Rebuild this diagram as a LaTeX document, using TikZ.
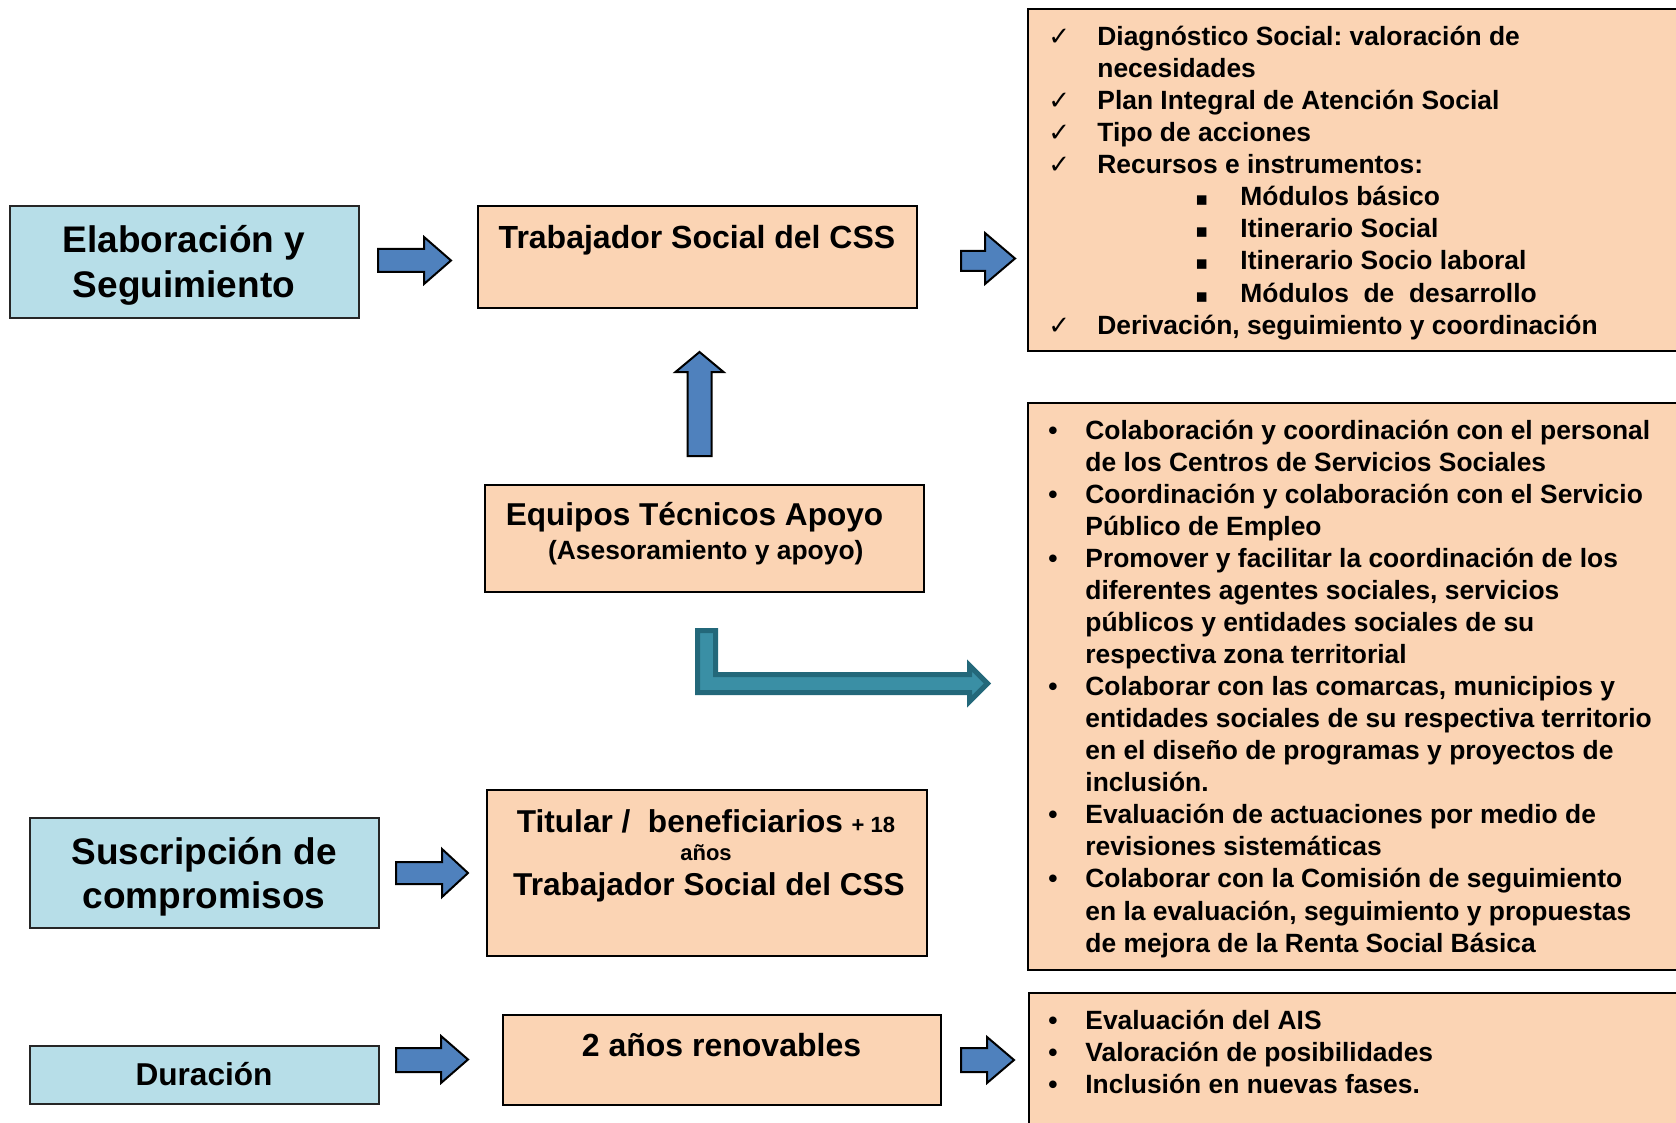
\documentclass[tikz,border=0pt]{standalone}
\usepackage{fontspec}
\setmainfont{Liberation Sans}
\newfontfamily\symfont{DejaVu Sans}
\frenchspacing
\definecolor{boxblue}{HTML}{B7DEE8}
\definecolor{peach}{HTML}{FBD4B4}
\definecolor{arrowblue}{HTML}{4F81BD}
\definecolor{tealfill}{HTML}{3A8FA5}
\definecolor{tealline}{HTML}{23687A}
\newcommand\ctr[2]{\vtop{\baselineskip=#1\relax\halign{\hfil##\hfil\cr#2\crcr}}}
\newcommand\chk{\makebox[23.5pt][l]{\hspace*{-1pt}\symfont\mdseries\fontsize{13}{13}\selectfont ✓}}
\newcommand\sqb{\hspace*{72.5pt}\makebox[22.5pt][l]{\symfont\fontsize{9.5}{9.5}\selectfont ▪}}
\newcommand\bul{\makebox[18.5pt][l]{•}}
\newcommand\ind{\hspace*{18.5pt}}
\newcommand\rarrow[7]{\draw[blockarrow] (#1,#4) -- (#3,#4) -- (#3,#6) -- (#2,{(#6+#7)/2}) -- (#3,#7) -- (#3,#5) -- (#1,#5) -- cycle;}
\begin{document}
\frenchspacing
\begin{tikzpicture}[x=0.5pt,y=-0.5pt,
  bluebox/.style={draw=black!85, line width=1pt, fill=boxblue, inner sep=0pt},
  peachbox/.style={draw=black, line width=1pt, fill=peach, inner sep=0pt},
  txt/.style={inner sep=0pt, font=\bfseries},
  blockarrow/.style={fill=arrowblue, draw=black, line width=1pt, line join=miter}]
\path[use as bounding box] (0,0) rectangle (1676,1123);
\clip (0,0) rectangle (1676,1123);
\fill[white] (0,0) rectangle (1676,1123);

% boxes
\node[bluebox, minimum width=174.75pt, minimum height=56pt] (elab) at (184.25,262) {};
\node[peachbox, minimum width=219.5pt, minimum height=51pt] (trab) at (697.5,257) {};
\node[peachbox, minimum width=331pt, minimum height=170.75pt] (rtop) at (1359,180.25) {};
\node[peachbox, minimum width=219.5pt, minimum height=53.25pt] (equipos) at (704.5,538.25) {};
\node[peachbox, minimum width=331pt, minimum height=283.25pt] (rmid) at (1359,686.25) {};
\node[bluebox, minimum width=174.5pt, minimum height=55pt] (susc) at (204.5,873) {};
\node[peachbox, minimum width=220pt, minimum height=83pt] (titular) at (707,873) {};
\node[bluebox, minimum width=174.25pt, minimum height=29.25pt] (dur) at (204.25,1074.75) {};
\node[peachbox, minimum width=219pt, minimum height=45pt] (anos) at (721.5,1060) {};
\node[peachbox, minimum width=330.5pt, minimum height=73.5pt] (rbot) at (1359.5,1066.5) {};

% texts
\node[txt, anchor=base, font=\bfseries\fontsize{18.5}{18.5}\selectfont] (telab) at (184,252.5)
  {\ctr{22.5pt}{Elaboración y\cr Seguimiento}};
\node[txt, anchor=base, font=\bfseries\fontsize{16}{16}\selectfont] (ttrab) at (697,248.3) {Trabajador Social del CSS};
\node[txt, anchor=base] (tequipos) at (705.8,525)
  {\ctr{17.15pt}{\fontsize{15.8}{15.8}\selectfont Equipos Técnicos Apoyo\hspace*{11.3pt}\cr
   \fontsize{13.2}{13.2}\selectfont (Asesoramiento y apoyo)}};
\node[txt, anchor=base, font=\bfseries\fontsize{18.5}{18.5}\selectfont] (tsusc) at (204,864)
  {\ctr{22pt}{Suscripción de\cr compromisos}};
\node[txt, anchor=base, font=\bfseries\fontsize{15.8}{15.8}\selectfont] (ttit1) at (706,832)
  {Titular /\ \ beneficiarios {\fontsize{11}{11}\selectfont + 18}};
\node[txt, anchor=base, font=\bfseries\fontsize{11}{11}\selectfont] (ttit2) at (706,860) {años};
\node[txt, anchor=base, font=\bfseries\fontsize{15.8}{15.8}\selectfont] (ttit3) at (709,895) {Trabajador Social del CSS};
\node[txt, anchor=base, font=\bfseries\fontsize{15.8}{15.8}\selectfont] (tdur) at (204,1085) {Duración};
\node[txt, anchor=base, font=\bfseries\fontsize{16}{16}\selectfont] (tanos) at (721.5,1056) {2 años renovables};

\node[txt, anchor=base west, font=\bfseries\fontsize{13.2}{13.2}\selectfont] (ltop) at (1050,45.5)
 {\vtop{\baselineskip=16.035pt
  \hbox{\chk Diagnóstico Social: valoración de}
  \hbox{\hspace*{23.5pt}necesidades}
  \hbox{\chk Plan Integral de Atención Social}
  \hbox{\chk Tipo de acciones}
  \hbox{\chk Recursos e instrumentos:}
  \hbox{\sqb Módulos básico}
  \hbox{\sqb Itinerario Social}
  \hbox{\sqb Itinerario Socio laboral}
  \hbox{\sqb Módulos\ \ de\ \ desarrollo}
  \hbox{\chk Derivación, seguimiento y coordinación}}};

\node[txt, anchor=base west, font=\bfseries\fontsize{13.2}{13.2}\selectfont] (lmid) at (1048,439)
 {\vtop{\baselineskip=16.035pt
  \hbox{\bul Colaboración y coordinación con el personal}
  \hbox{\ind de los Centros de Servicios Sociales}
  \hbox{\bul Coordinación y colaboración con el Servicio}
  \hbox{\ind Público de Empleo}
  \hbox{\bul Promover y facilitar la coordinación de los}
  \hbox{\ind diferentes agentes sociales, servicios}
  \hbox{\ind públicos y entidades sociales de su}
  \hbox{\ind respectiva zona territorial}
  \hbox{\bul Colaborar con las comarcas, municipios y}
  \hbox{\ind entidades sociales de su respectiva territorio}
  \hbox{\ind en el diseño de programas y proyectos de}
  \hbox{\ind inclusión.}
  \hbox{\bul Evaluación de actuaciones por medio de}
  \hbox{\ind revisiones sistemáticas}
  \hbox{\bul Colaborar con la Comisión de seguimiento}
  \hbox{\ind en la evaluación, seguimiento y propuestas}
  \hbox{\ind de mejora de la Renta Social Básica}}};

\node[txt, anchor=base west, font=\bfseries\fontsize{13.2}{13.2}\selectfont] (lbot) at (1048,1029)
 {\vtop{\baselineskip=16.035pt
  \hbox{\bul Evaluación del AIS}
  \hbox{\bul Valoración de posibilidades}
  \hbox{\bul Inclusión en nuevas fases.}}};

% block arrows
\rarrow{378}{451}{424}{249}{272}{237}{284}
\rarrow{961}{1015}{985}{251}{271}{233}{284}
\rarrow{396}{468}{442}{862}{884}{849}{897}
\rarrow{396}{468}{441}{1048}{1072}{1036}{1083}
\rarrow{961}{1014}{987}{1048}{1072}{1037}{1083}
\draw[blockarrow] (687.5,456) -- (687.5,372) -- (675.5,372) -- (699.5,352) -- (723.5,372) -- (711.5,372) -- (711.5,456) -- cycle;
\draw[fill=tealfill, draw=tealline, line width=2.5pt, line join=miter]
  (697.5,630.5) -- (715.5,630.5) -- (715.5,674.5) -- (969.5,674.5) -- (969.5,665.5)
  -- (987.5,683.5) -- (969.5,701.5) -- (969.5,692.5) -- (697.5,692.5) -- cycle;
\end{tikzpicture}
\end{document}
